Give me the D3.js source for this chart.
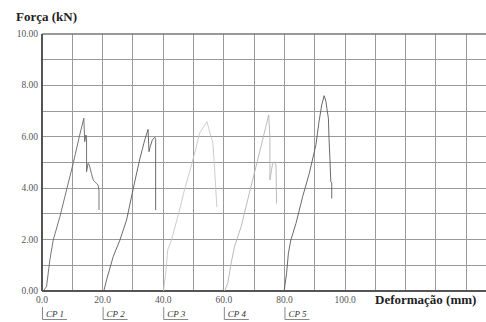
<!DOCTYPE html>
<html>
<head>
<meta charset="utf-8">
<script src="https://cdn.jsdelivr.net/npm/d3@7"></script>
<style>
  html, body { margin: 0; padding: 0; background: #fff; }
  svg { display: block; }
</style>
</head>
<body>
<svg id="chart" width="486" height="322"></svg>
<script>
// Force–deformation curves of five specimens (CP 1 … CP 5)
const specimens = ["CP 1", "CP 2", "CP 3", "CP 4", "CP 5"];
const offsets = [0, 20, 40, 60, 80];

const cp1X = [0.4, 1.5, 2.6, 3.7, 5.9, 8.1, 10.3, 12.3, 13.8, 14.1, 14.5, 14.7, 14.7, 15.2, 15.6, 16.3, 16.9, 17.4, 18.0, 18.5, 18.8, 18.8];
const cp1Y = [0, 0.17, 1.21, 1.98, 2.89, 3.93, 4.97, 6.0, 6.72, 5.81, 6.07, 5.95, 4.64, 4.97, 4.9, 4.58, 4.32, 4.25, 4.19, 4.12, 3.93, 3.15];

const cp2X = [20.4, 21.3, 23.5, 25.7, 27.9, 30.0, 32.2, 33.9, 35.0, 35.3, 35.7, 36.4, 37.2, 37.5, 37.5];
const cp2Y = [0, 0.43, 1.34, 1.98, 2.76, 3.93, 5.1, 5.88, 6.29, 5.42, 5.61, 5.88, 5.98, 5.9, 3.15];

const cp3X = [40.1, 40.8, 41.5, 42.7, 44.8, 47.0, 49.2, 50.9, 52.0, 53.3, 54.4, 55.0, 55.8, 56.4, 56.9, 57.7];
const cp3Y = [0, 0.69, 1.6, 1.98, 2.89, 3.93, 4.84, 5.61, 6.14, 6.39, 6.59, 6.33, 6.0, 5.75, 4.84, 3.26];

const cp4X = [60.2, 61.3, 62.4, 63.5, 65.7, 68.4, 70.6, 72.8, 74.8, 75.2, 75.2, 76.1, 76.6, 77.2, 77.4];
const cp4Y = [0, 0.3, 1.08, 1.72, 2.5, 3.8, 4.84, 5.88, 6.85, 6.0, 4.32, 4.97, 5.03, 4.9, 3.41];

const cp5X = [79.9, 80.7, 81.3, 82.1, 83.8, 86.0, 88.2, 90.4, 91.4, 92.3, 93.1, 93.7, 94.0, 94.5, 94.7, 95.0, 95.3, 95.6, 95.6];
const cp5Y = [0, 0.69, 1.47, 1.98, 2.63, 3.67, 4.58, 5.7, 6.59, 7.24, 7.6, 7.37, 7.1, 6.72, 5.94, 5.16, 4.25, 4.2, 3.6];

const xTicks = [0, 20, 40, 60, 80, 100];
const yTicks = [0, 2, 4, 6, 8, 10];
const lineColors = ["#666", "#5a5a5a", "#c6c6c6", "#b3b3b3", "#595959"];

const curves = [[cp1X, cp1Y], [cp2X, cp2Y], [cp3X, cp3Y], [cp4X, cp4Y], [cp5X, cp5Y]]
  .map(([xs, ys]) => xs.map((v, i) => [v, ys[i]]));

const svg = d3.select("#chart");
const x = d3.scaleLinear().domain([0, 146.5]).range([42, 486]);
const y = d3.scaleLinear().domain([0, 10]).range([291, 34]);

const serif = "'Liberation Serif', 'Times New Roman', serif";

// grid
const grid = svg.append("g").attr("stroke", "#9a9a9a").attr("stroke-width", 1).attr("shape-rendering", "crispEdges");
grid.selectAll("line.v").data(d3.range(10, 150, 10)).join("line")
  .attr("x1", d => x(d)).attr("x2", d => x(d)).attr("y1", y(10)).attr("y2", y(0));
grid.selectAll("line.h").data(d3.range(1, 10, 1)).join("line")
  .attr("x1", x(0)).attr("x2", 486).attr("y1", d => y(d)).attr("y2", d => y(d));

// frame: top, left and bottom
svg.append("line").attr("x1", x(0)).attr("x2", 486).attr("y1", y(10)).attr("y2", y(10))
  .attr("stroke", "#777").attr("stroke-width", 1.5);
svg.append("line").attr("x1", x(0)).attr("x2", x(0)).attr("y1", y(10)).attr("y2", y(0))
  .attr("stroke", "#555").attr("stroke-width", 2);
svg.append("line").attr("x1", x(0)).attr("x2", 486).attr("y1", y(0)).attr("y2", y(0))
  .attr("stroke", "#555").attr("stroke-width", 2);

// y tick labels
svg.append("g").selectAll("text").data(yTicks).join("text")
  .attr("x", 38).attr("y", d => y(d) + 3)
  .attr("text-anchor", "end")
  .attr("font-family", serif).attr("font-size", 9.5).attr("fill", "#555")
  .text(d => d3.format(".2f")(d));

// x tick labels
svg.append("g").selectAll("text").data(xTicks).join("text")
  .attr("x", d => x(d)).attr("y", 303)
  .attr("text-anchor", "middle")
  .attr("font-family", serif).attr("font-size", 9.5).attr("fill", "#555")
  .text(d => d3.format(".1f")(d));

// curves
const line = d3.line().x(d => x(d[0])).y(d => y(d[1]));
svg.append("g").selectAll("path").data(curves).join("path")
  .attr("d", line)
  .attr("fill", "none")
  .attr("stroke", (d, i) => lineColors[i])
  .attr("stroke-width", 0.9)
  .attr("stroke-linejoin", "round");

// specimen tags under the axis
const tags = svg.append("g").selectAll("g").data(specimens).join("g")
  .attr("transform", (d, i) => `translate(${x(offsets[i])},0)`);
tags.append("path")
  .attr("d", "M0.5,307V319.5H25")
  .attr("fill", "none").attr("stroke", "#888").attr("stroke-width", 1);
tags.append("text")
  .attr("x", 4).attr("y", 316.5)
  .attr("font-family", serif).attr("font-style", "italic").attr("font-size", 9)
  .attr("fill", "#333")
  .text(d => d);

// axis titles
svg.append("text").attr("x", 16).attr("y", 21)
  .attr("font-family", serif).attr("font-weight", "bold").attr("font-size", 13).attr("fill", "#222")
  .text("Força (kN)");
svg.append("text").attr("x", 375).attr("y", 304)
  .attr("font-family", serif).attr("font-weight", "bold").attr("font-size", 13).attr("fill", "#222")
  .text("Deformação (mm)");
</script>
</body>
</html>
